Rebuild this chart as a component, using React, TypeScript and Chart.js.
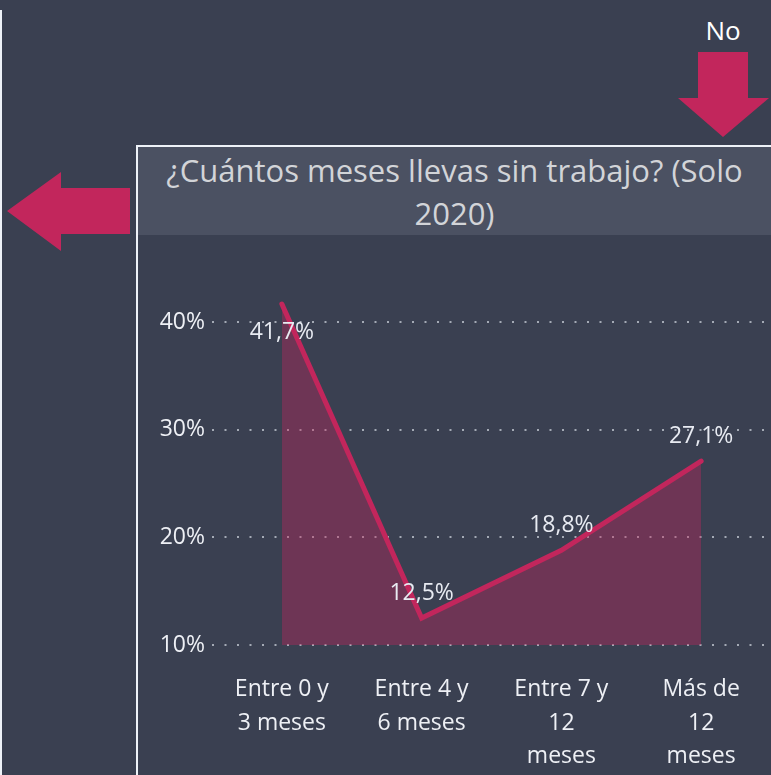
import React, { useEffect, useRef } from "react";
import { Chart, registerables } from "chart.js";

Chart.register(...registerables);

const categories: string[][] = [
  ["Entre 0 y", "3 meses"],
  ["Entre 4 y", "6 meses"],
  ["Entre 7 y", "12", "meses"],
  ["Más de", "12", "meses"],
];
const values: number[] = [41.7, 12.5, 18.8, 27.1];
const valueLabels: string[] = ["41,7%", "12,5%", "18,8%", "27,1%"];
const yTicks: number[] = [10, 20, 30, 40];
const title1 = "¿Cuántos meses llevas sin trabajo? (Solo";
const title2 = "2020)";

const BG = "#3a4051";
const ACCENT = "#c2265c";
const FONT = "'Open Sans', 'Noto Sans', sans-serif";

const dataLabelPlugin = {
  id: "dataLabels",
  afterDatasetsDraw(chart: any) {
    const ctx = chart.ctx;
    const meta = chart.getDatasetMeta(0);
    const area = chart.chartArea;
    ctx.save();
    ctx.font = `23px ${FONT}`;
    ctx.fillStyle = "#e8ebf2";
    ctx.textAlign = "center";
    ctx.textBaseline = "middle";
    meta.data.forEach((pt: any, i: number) => {
      let y = pt.y - 25;
      if (y - 10 < area.top) y = pt.y + 28;
      ctx.fillText(valueLabels[i], pt.x, y);
    });
    ctx.restore();
  },
};

function LineChart() {
  const ref = useRef<HTMLCanvasElement | null>(null);
  useEffect(() => {
    if (!ref.current) return;
    const chart = new Chart(ref.current, {
      type: "line",
      data: {
        labels: categories,
        datasets: [
          {
            data: values,
            borderColor: ACCENT,
            borderWidth: 5,
            backgroundColor: "rgba(194,38,92,0.38)",
            fill: "start",
            pointRadius: 0,
            tension: 0,
            borderCapStyle: "round",
          },
        ],
      },
      options: {
        animation: false,
        responsive: false,
        maintainAspectRatio: false,
        layout: { padding: { top: 54, right: 0, left: 0, bottom: 0 } },
        plugins: { legend: { display: false }, tooltip: { enabled: false } },
        scales: {
          x: {
            offset: true,
            grid: { display: false },
            border: { display: false },
            ticks: {
              color: "#eef0f5",
              font: { size: 23, family: FONT, lineHeight: 1.45 },
              padding: 20,
              maxRotation: 0,
              autoSkip: false,
            },
            afterFit(scale: any) {
              scale.height = 130;
            },
          },
          y: {
            min: 10,
            max: 43,
            afterBuildTicks(scale: any) {
              scale.ticks = yTicks.map((v) => ({ value: v }));
            },
            grid: {
              color: "rgba(200,205,215,0.75)",
              lineWidth: 2,
              drawTicks: false,
            },
            border: { display: false, dash: [2, 10.5] },
            ticks: {
              color: "#eef0f5",
              font: { size: 23, family: FONT },
              padding: 7,
              callback: (v: any) => `${v}%`,
            },
            afterFit(scale: any) {
              scale.width = 74;
            },
          },
        },
      },
      plugins: [dataLabelPlugin],
    } as any);
    return () => chart.destroy();
  }, []);
  return <canvas ref={ref} width={633} height={539} style={{ display: "block", width: 633, height: 539 }} />;
}

export default function App() {
  return (
    <div
      style={{
        position: "absolute",
        left: 0,
        top: 0,
        width: 771,
        height: 775,
        background: BG,
        overflow: "hidden",
        fontFamily: FONT,
      }}
    >
      <div style={{ position: "absolute", left: 0, top: 10, width: 2, height: 765, background: "#eef2f8" }} />
      <svg width={771} height={775} style={{ position: "absolute", left: 0, top: 0 }}>
        <polygon points="7,211 61,172 61,188 130,188 130,234 61,234 61,251" fill={ACCENT} />
        <polygon points="698,52 748,52 748,98 769,98 723,137 678,98 698,98" fill={ACCENT} />
      </svg>
      <div
        style={{
          position: "absolute",
          left: 683,
          top: 13,
          width: 80,
          textAlign: "center",
          color: "#ffffff",
          fontSize: 26,
          lineHeight: "34px",
        }}
      >
        No
      </div>
      <div
        style={{
          position: "absolute",
          left: 136,
          top: 145,
          width: 640,
          height: 640,
          border: "2px solid #eef2f8",
          boxSizing: "border-box",
        }}
      />
      <div
        style={{
          position: "absolute",
          left: 138,
          top: 147,
          width: 633,
          height: 88,
          background: "#4b5162",
          color: "#d2d4d8",
          fontSize: 31,
          lineHeight: "43px",
          textAlign: "center",
          paddingTop: 2,
          boxSizing: "border-box",
          whiteSpace: "nowrap",
        }}
      >
        <div>{title1}</div>
        <div>{title2}</div>
      </div>
      <div style={{ position: "absolute", left: 138, top: 236 }}>
        <LineChart />
      </div>
    </div>
  );
}
